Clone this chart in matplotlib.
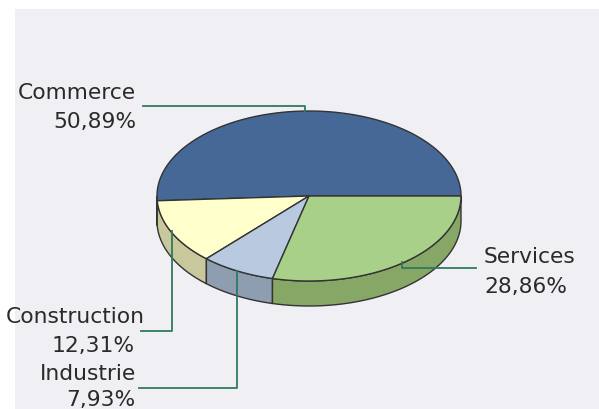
import matplotlib
matplotlib.use("Agg")
import matplotlib.pyplot as plt
import numpy as np
from matplotlib.patches import Polygon, Rectangle

# data
labels = ["Commerce", "Construction", "Industrie", "Services"]
shares = [50.89, 12.31, 7.93, 28.86]
pct_text = ["50,89%", "12,31%", "7,93%", "28,86%"]
top_colors = ["#456896", "#ffffcc", "#b8c9e0", "#a8d088"]
side_colors = ["#33507a", "#c8c89c", "#8e9db0", "#87a766"]

W, H = 599, 410
fig = plt.figure(figsize=(W / 100, H / 100), dpi=100)
ax = fig.add_axes([0, 0, 1, 1])
ax.set_xlim(0, W)
ax.set_ylim(H, 0)
ax.axis("off")

# background panel
ax.add_patch(Rectangle((15, 10), W, H, facecolor="#efeff4", edgecolor="none", zorder=0))

cx, cy, rx, ry, depth = 309, 197, 152, 85, 25
edge = "#333333"

# slice angles, counterclockwise from 3 o'clock
bounds = np.concatenate([[0], np.cumsum(shares) / sum(shares) * 360])

# sides (front half only)
for i in range(len(shares)):
    a0, a1 = max(bounds[i], 180), min(bounds[i + 1], 360)
    if a1 <= a0:
        continue
    t = np.linspace(a0, a1, 80)
    xs = cx + rx * np.cos(np.radians(t))
    ys = cy - ry * np.sin(np.radians(t))
    poly = np.column_stack([np.concatenate([xs, xs[::-1]]),
                            np.concatenate([ys, ys[::-1] + depth])])
    ax.add_patch(Polygon(poly, closed=True, facecolor=side_colors[i],
                         edgecolor=edge, lw=1.0, zorder=2))

# top face
for i in range(len(shares)):
    t = np.linspace(bounds[i], bounds[i + 1], 150)
    xs = cx + rx * np.cos(np.radians(t))
    ys = cy - ry * np.sin(np.radians(t))
    poly = np.column_stack([np.concatenate([[cx], xs]), np.concatenate([[cy], ys])])
    ax.add_patch(Polygon(poly, closed=True, facecolor=top_colors[i],
                         edgecolor=edge, lw=1.0, zorder=3))

# leader lines and labels
lc = "#2f7a5f"
tc = "#2a2a2a"
fs = 15.7


def label(x, y1, y2, name, pct, ha, x2=None):
    ax.text(x, y1, name, ha=ha, va="baseline", fontsize=fs, color=tc)
    ax.text(x if x2 is None else x2, y2, pct, ha=ha, va="baseline", fontsize=fs, color=tc)


ax.plot([143, 305, 305], [107, 107, 113], color=lc, lw=1.3, zorder=4)
label(136, 99, 128, labels[0], pct_text[0], "right")

ax.plot([402, 402, 476], [263, 269, 269], color=lc, lw=1.3, zorder=4)
label(484, 263, 293, labels[3], pct_text[3], "left")

ax.plot([172, 172, 141], [232, 332, 332], color=lc, lw=1.3, zorder=4)
label(145, 323, 352, labels[1], pct_text[1], "right", x2=135)

ax.plot([237, 237, 139], [272, 389, 389], color=lc, lw=1.3, zorder=4)
label(136, 380, 406, labels[2], pct_text[2], "right")

fig.savefig("out.png", dpi=100)
